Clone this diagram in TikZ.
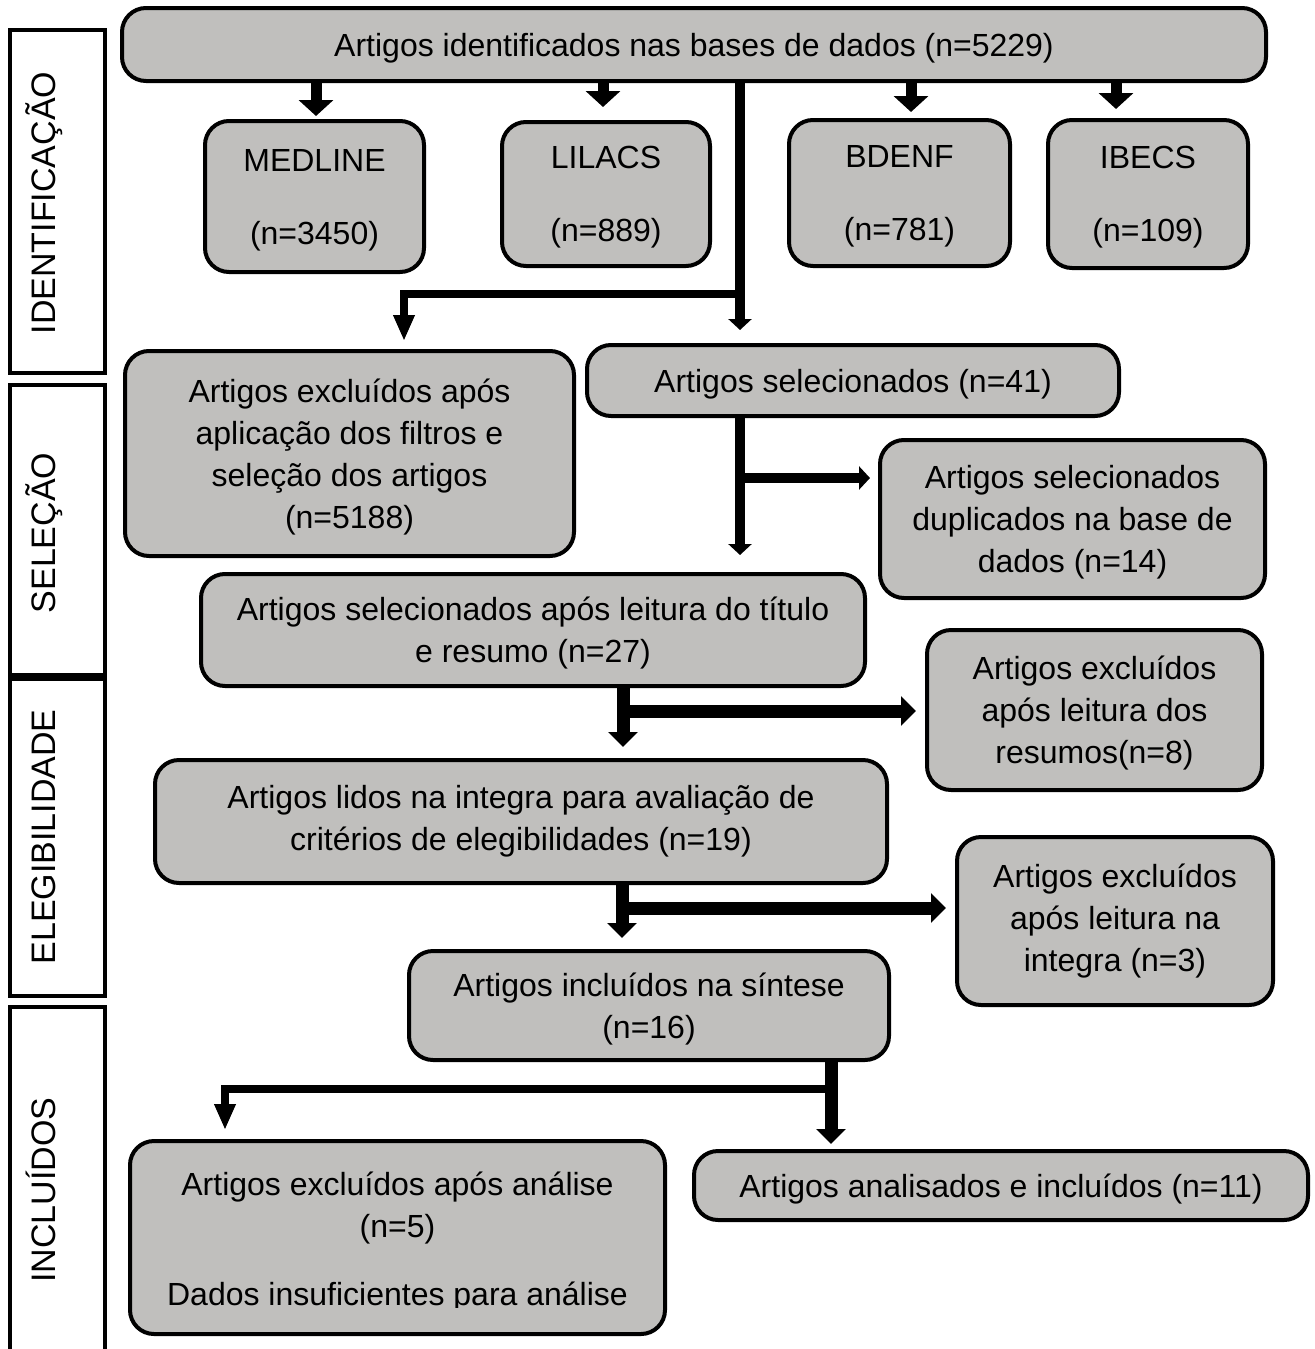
\documentclass[tikz,border=0pt]{standalone}
\usepackage{fontspec}
\setmainfont{Liberation Sans}
\usetikzlibrary{arrows.meta}
\definecolor{boxgray}{RGB}{192,191,189}
\begin{document}
\begin{tikzpicture}[x=0.5pt,y=-0.5pt,
  box/.style={draw=black, line width=2pt, fill=boxgray, rounded corners=12pt, align=center, font=\fontsize{16}{21}\selectfont, inner sep=0pt},
  low/.style={text depth=0pt},
  txt/.style={font=\fontsize{16}{21}\selectfont, inner sep=0pt, anchor=base},
  lab/.style={draw=black, line width=2pt, fill=white, inner sep=0pt},
  labtext/.style={rotate=90, anchor=base, inner sep=0pt, font=\fontsize{17}{20}\selectfont},
  fat/.style={line width=5.5pt, -{Triangle[width=17pt,length=8pt]}},
  thn/.style={line width=5pt, -{Triangle[width=11.5pt,length=5.5pt]}},
  thnlong/.style={line width=4.25pt, -{Triangle[width=10pt,length=13pt]}},
  mid/.style={line width=6.5pt, -{Triangle[width=14.5pt,length=7.5pt]}},
]
\useasboundingbox (0,0) rectangle (1314,1349);

% side labels
\node[lab, minimum width=47.5pt, minimum height=171.5pt] (L1) at (57.5,201.5) {};
\node[labtext] (L1t) at (55,203) {IDENTIFICAÇÃO};
\node[lab, minimum width=47.5pt, minimum height=145pt] (L2) at (57.5,530) {};
\node[labtext] (L2t) at (55,533) {SELEÇÃO};
\node[lab, minimum width=47.5pt, minimum height=158.5pt] (L3) at (57.5,837.5) {};
\node[labtext] (L3t) at (55,837) {ELEGIBILIDADE};
\node[lab, minimum width=47.5pt, minimum height=175.5pt] (L4) at (57.5,1182.5) {};
\node[labtext] (L4t) at (55,1190) {INCLUÍDOS};

% boxes
\node[box, low, minimum width=572pt, minimum height=36.5pt] (main) at (694,44.5) {Artigos identificados nas bases de dados (n=5229)};
\node[box, low, minimum width=109.5pt, minimum height=75.5pt] (med) at (314.5,196.5) {MEDLINE\\[15.5pt](n=3450)};
\node[box, low, minimum width=104pt, minimum height=72pt] (lil) at (606,194) {LILACS\\[15.5pt](n=889)};
\node[box, low, minimum width=110.5pt, minimum height=73pt] (bde) at (899.5,193) {BDENF\\[15.5pt](n=781)};
\node[box, low, minimum width=100pt, minimum height=74pt] (ibe) at (1148,194) {IBECS\\[15.5pt](n=109)};
\node[box, low, minimum width=224.5pt, minimum height=102.5pt] (exc1) at (349.5,453.5) {Artigos excluídos após\\aplicação dos filtros e\\seleção dos artigos\\(n=5188)};
\node[box, low, minimum width=266pt, minimum height=35.5pt] (sel) at (853,380.5) {Artigos selecionados (n=41)};
\node[box, low, minimum width=192.5pt, minimum height=79pt] (dup) at (1072.5,519) {Artigos selecionados\\duplicados na base de\\dados (n=14)};
\node[box, low, minimum width=332pt, minimum height=56pt] (tit) at (533,630) {Artigos selecionados após leitura do título\\e resumo (n=27)};
\node[box, low, minimum width=167.5pt, minimum height=80pt] (res) at (1094.5,710) {Artigos excluídos\\após leitura dos\\resumos(n=8)};
\node[box, minimum width=366pt, minimum height=61.5pt] (int) at (521,821.5) {Artigos lidos na integra para avaliação de\\critérios de elegibilidades (n=19)};
\node[box, minimum width=158pt, minimum height=84pt] (exc3) at (1115,921) {Artigos excluídos\\após leitura na\\integra (n=3)};
\node[box, low, minimum width=240pt, minimum height=54.5pt] (sin) at (649,1005.5) {Artigos incluídos na síntese\\(n=16)};
\node[box, minimum width=267.5pt, minimum height=96.5pt] (exc5) at (397.5,1237.5) {};
\node[txt] (e5a) at (397.5,1195) {Artigos excluídos após análise};
\node[txt] (e5b) at (397.5,1237) {(n=5)};
\begin{scope}
  \clip (130,1250) rectangle (665,1307);
  \node[txt] (e5c) at (397.5,1305) {Dados insuficientes para análise};
\end{scope}
\node[box, low, minimum width=307pt, minimum height=34.5pt] (inc) at (1001,1185.5) {Artigos analisados e incluídos (n=11)};

% coordinates
\coordinate (a1) at (316,116);
\coordinate (a2) at (603,107);
\coordinate (a3) at (911,112);
\coordinate (a4) at (1116,109);
\coordinate (j1) at (740,294);
\coordinate (k1) at (404,294);
\coordinate (j2) at (740,478);
\coordinate (j3) at (623,711);
\coordinate (j4) at (622,908);
\coordinate (j5) at (831,1089);
\coordinate (k5) at (225,1089);

% connectors
\draw[fat] (main.south -| a1) -- (a1);
\draw[fat] (main.south -| a2) -- (a2);
\draw[fat] (main.south -| a3) -- (a3);
\draw[fat] (main.south -| a4) -- (a4);

\draw[thn, shorten >=6.5pt] (main.south -| j1) -- (j1 |- sel.north);
\draw[thnlong, shorten >=4pt] (j1) -- (k1) -- (k1 |- exc1.north);

\draw[thn, shorten >=8.5pt] (sel.south -| j2) -- (j2 |- tit.north);
\draw[thn, shorten >=4pt] (j2) -- (j2 -| dup.west);

\draw[mid, shorten >=5.5pt] (tit.south -| j3) -- (j3 |- int.north);
\draw[mid, shorten >=4.5pt] (j3) -- (j3 -| res.west);

\draw[mid, shorten >=5.5pt] (int.south -| j4) -- (j4 |- sin.north);
\draw[mid, shorten >=4.5pt] (j4) -- (j4 -| exc3.west);

\draw[mid, shorten >=2.5pt] (sin.south -| j5) -- (j5 |- inc.north);
\draw[thnlong, shorten >=4.5pt] (j5) -- (k5) -- (k5 |- exc5.north);
\end{tikzpicture}
\end{document}
